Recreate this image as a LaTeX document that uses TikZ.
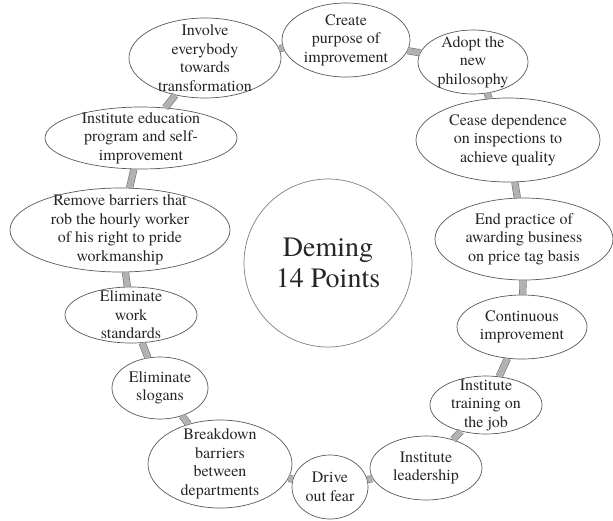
\documentclass[tikz,border=0pt]{standalone}
\usepackage{fontspec}
\setmainfont{TeX Gyre Termes}
\usetikzlibrary{shapes.geometric}
\tikzset{
  ell/.style={ellipse, draw=black!65, line width=0.7pt, inner sep=0pt, fill=white},
  txt/.style={align=center, inner sep=0pt, text=black!85, font=\fontsize{16}{18.5}\selectfont},
  bar/.style={draw=black!55, line width=0.6pt, double=black!30, double distance=6pt},
}
\begin{document}
\begin{tikzpicture}[x=1pt,y=-1pt]
\useasboundingbox (0,0) rectangle (613,520);
% ellipses
\node[ell, minimum width=128pt, minimum height=74pt] (create) at (346,40) {};
\node[ell, minimum width=110pt, minimum height=64pt] (adopt) at (473,62) {};
\node[ell, minimum width=184pt, minimum height=84pt] (cease) at (508,140) {};
\node[ell, minimum width=178pt, minimum height=82pt] (endp) at (524,239) {};
\node[ell, minimum width=130pt, minimum height=64pt] (cont) at (522,327) {};
\node[ell, minimum width=112pt, minimum height=58pt] (train) at (486,405) {};
\node[ell, minimum width=112pt, minimum height=64pt] (lead) at (426,468) {};
\node[ell, minimum width=76pt, minimum height=64pt] (fear) at (330,487) {};
\node[ell, minimum width=144pt, minimum height=88pt] (brk) at (220,464) {};
\node[ell, minimum width=96pt, minimum height=62pt] (slog) at (160,388) {};
\node[ell, minimum width=132pt, minimum height=56pt] (work) at (131,315) {};
\node[ell, minimum width=220pt, minimum height=84pt] (rem) at (120,230) {};
\node[ell, minimum width=192pt, minimum height=62pt] (edu) at (141,138) {};
\node[ell, minimum width=152pt, minimum height=80pt] (inv) at (205,58) {};
\node[circle, draw=black!50, line width=0.7pt, minimum size=168pt, inner sep=0pt] (deming) at (328,263) {};
% connectors
\draw[bar] (create) -- (adopt);
\draw[bar] (adopt) -- (cease);
\draw[bar] (cease) -- (endp);
\draw[bar] (endp) -- (cont);
\draw[bar] (cont) -- (train);
\draw[bar] (train) -- (lead);
\draw[bar] (lead) -- (fear);
\draw[bar] (fear) -- (brk);
\draw[bar] (brk) -- (slog);
\draw[bar] (slog) -- (work);
\draw[bar] (work) -- (rem);
\draw[bar] (rem) -- (edu);
\draw[bar] (edu) -- (inv);
\draw[bar] (inv) -- (create);
% texts
\node[txt] at (create) {Create\\purpose of\\improvement};
\node[txt] at (adopt) {Adopt the\\new\\philosophy};
\node[txt] at (cease) {Cease dependence\\on inspections to\\achieve quality};
\node[txt] at (endp) {End practice of\\awarding business\\on price tag basis};
\node[txt] at (cont) {Continuous\\improvement};
\node[txt] at (train) {Institute\\training on\\the job};
\node[txt] at (lead) {Institute\\leadership};
\node[txt] at (fear) {Drive\\out fear};
\node[txt] at (brk) {Breakdown\\barriers\\between\\departments};
\node[txt] at (slog) {Eliminate\\slogans};
\node[txt] at (work) {Eliminate\\work\\standards};
\node[txt] at (rem) {Remove barriers that\\rob the hourly worker\\of his right to pride\\workmanship};
\node[txt] at (edu) {Institute education\\program and self-\\improvement};
\node[txt] at (inv) {Involve\\everybody\\towards\\transformation};
\node[txt, font=\fontsize{28}{31}\selectfont] at (deming) {Deming\\14 Points};
\end{tikzpicture}
\end{document}
